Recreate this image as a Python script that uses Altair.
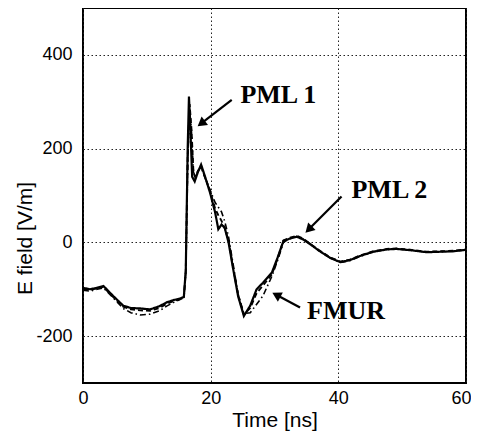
import altair as alt
import pandas as pd
import math

# ---- data ----
t_pml1 = [0, 1.1, 2.2, 3.2, 4.7, 6.3, 7.5, 9.0, 10.5, 12.0, 13.1, 14.2, 15.2, 15.8, 16.1, 16.4, 16.6,
          16.8, 17.1, 17.5, 18.0, 18.5, 19.1, 19.9, 20.7, 21.2, 21.7, 22.2, 22.8, 23.5, 24.3, 25.2,
          26.2, 27.2, 28.2, 29.6, 30.5, 31.4, 32.4, 33.5, 34.5, 35.6, 37.0, 38.7, 40.3, 41.8, 43.4,
          45.5, 47.6, 49.1, 51.5, 53.8, 56.0, 58.0, 60]
v_pml1 = [-97, -100, -97, -93, -114, -135, -140, -141, -143, -136, -128, -123, -120, -116, -60, 200, 311,
          250, 140, 130, 150, 166, 141, 106, 64, 28, 38, 31, 0, -55, -115, -157,
          -135, -100, -86, -64, -32, 3, 8, 12, 6, -4, -18, -33, -42, -38, -29,
          -20, -15, -14, -17, -21, -20, -19, -16]

t_pml2 = [0, 1.1, 2.2, 3.2, 4.7, 6.3, 7.5, 9.0, 10.5, 12.0, 13.1, 14.2, 15.2, 15.8, 16.1, 16.4, 16.7,
          17.0, 17.3, 17.6, 18.0, 18.5, 19.1, 19.9, 20.7, 21.2, 21.7, 22.2, 22.8, 23.5, 24.3, 25.2,
          26.2, 27.2, 28.2, 29.6, 30.5, 31.4, 32.4, 33.5, 34.5, 35.6, 37.0, 38.7, 40.3, 41.8, 43.4,
          45.5, 47.6, 49.1, 51.5, 53.8, 56.0, 58.0, 60]
v_pml2 = [-99, -101, -98, -95, -116, -137, -143, -145, -146, -140, -131, -125, -121, -117, -62, 180, 295,
          240, 150, 138, 152, 162, 140, 110, 72, 58, 46, 30, 4, -52, -112, -154,
          -140, -108, -92, -68, -34, 4, 10, 14, 8, -3, -17, -32, -41, -37, -28,
          -19, -14, -13, -16, -20, -19, -18, -15]

t_fmur = [0, 1.1, 2.2, 3.2, 4.7, 6.3, 7.5, 9.0, 10.5, 12.0, 13.1, 14.2, 15.2, 15.8, 16.1, 16.4, 16.7,
          17.0, 17.3, 17.6, 18.0, 18.5, 19.1, 19.9, 20.7, 21.2, 21.7, 22.2, 22.8, 23.5, 24.3, 25.2,
          26.2, 27.2, 28.2, 29.6, 30.5, 31.4, 32.4, 33.5, 34.5, 35.6, 37.0, 38.7, 40.3, 41.8, 43.4,
          45.5, 47.6, 49.1, 51.5, 53.8, 56.0, 58.0, 60]
v_fmur = [-102, -104, -100, -97, -118, -141, -150, -155, -153, -146, -136, -128, -122, -118, -64, 170, 285,
          235, 150, 140, 153, 160, 138, 112, 85, 75, 65, 45, 12, -45, -110, -152,
          -150, -132, -114, -72, -38, 0, 8, 13, 7, -3, -18, -33, -43, -39, -30,
          -20, -15, -14, -17, -21, -20, -19, -16]

series_names = ["PML 1", "PML 2", "FMUR"]
series_dash = [[1, 0], [5, 3], [6, 3, 1.5, 3]]
series_width = [2.2, 1.6, 1.6]

label_text = ["PML 1", "PML 2", "FMUR"]
label_t = [30.6, 48.0, 41.2]
label_v = [315, 111, -146]

arrow_tail_t = [23.3, 40.5, 34.0]
arrow_tail_v = [304, 98, -139]
arrow_tip_t = [17.9, 34.8, 29.6]
arrow_tip_v = [247, 20, -107]

x_ticks = [0, 20, 40, 60]
y_ticks = [-200, 0, 200, 400]

# ---- build tables ----
W, H = 383, 375
XDOM, YDOM = [0, 60], [-300, 500]
px_per_t = W / (XDOM[1] - XDOM[0])
px_per_v = H / (YDOM[1] - YDOM[0])

rows = []
for name, ts, vs in zip(series_names, [t_pml1, t_pml2, t_fmur], [v_pml1, v_pml2, v_fmur]):
    for t, v in zip(ts, vs):
        rows.append({"series": name, "t": t, "v": v})
df = pd.DataFrame(rows)

arrows = []
for a, b, c, d in zip(arrow_tail_t, arrow_tail_v, arrow_tip_t, arrow_tip_v):
    dx = (c - a) * px_per_t
    dy = -(d - b) * px_per_v  # screen down positive
    L = math.hypot(dx, dy)
    ux, uy = dx / L, dy / L
    ang = math.degrees(math.atan2(ux, -uy)) % 360
    back = 5.0
    hx = c - ux * back / px_per_t
    hy = d + uy * back / px_per_v
    sx = c - ux * 8 / px_per_t
    sy = d + uy * 8 / px_per_v
    arrows.append({"t0": a, "v0": b, "t1": sx, "v1": sy, "ht": hx, "hv": hy, "ang": ang})
adf = pd.DataFrame(arrows)

ldf = pd.DataFrame({"text": label_text, "t": label_t, "v": label_v})

xscale = alt.Scale(domain=XDOM, nice=False, zero=False)
yscale = alt.Scale(domain=YDOM, nice=False, zero=False)

lines = alt.Chart(df).mark_line(color="black", clip=True).encode(
    x=alt.X("t:Q", scale=xscale,
            axis=alt.Axis(title="Time [ns]", values=x_ticks, labelExpr="'' + datum.value",
                          labelFlush=True, labelFlushOffset=5,
                          titleY=43, titleBaseline="alphabetic")),
    y=alt.Y("v:Q", scale=yscale,
            axis=alt.Axis(title="E field [V/m]", values=y_ticks, labelExpr="'' + datum.value",
                          labelFlush=False,
                          titleX=-58, titleY=230, titleAngle=-90,
                          titleBaseline="middle", titleAlign="center")),
    strokeDash=alt.StrokeDash("series:N", scale=alt.Scale(domain=series_names, range=series_dash), legend=None),
    strokeWidth=alt.StrokeWidth("series:N", scale=alt.Scale(domain=series_names, range=series_width), legend=None),
    order=alt.Order("t:Q"),
)

shafts = alt.Chart(adf).mark_rule(color="black", strokeWidth=2.2).encode(
    x="t0:Q", y="v0:Q", x2="t1:Q", y2="v1:Q"
)
heads = alt.Chart(adf).mark_point(shape="triangle-up", filled=True, color="black",
                                  size=110, opacity=1).encode(
    x="ht:Q", y="hv:Q", angle=alt.Angle("ang:Q", scale=None)
)
texts = alt.Chart(ldf).mark_text(font="Liberation Serif", fontWeight="bold", fontSize=26,
                                 color="black", align="center", baseline="middle").encode(
    x="t:Q", y="v:Q", text="text:N"
)

chart = alt.layer(lines, shafts, heads, texts).properties(
    width=W, height=H,
    autosize=alt.AutoSizeParams(type="none"),
    padding={"left": 75, "top": 0, "right": 5, "bottom": 54},
).configure_view(
    stroke="black", strokeWidth=2
).configure_axis(
    domain=False, ticks=False, labelFont="Liberation Sans", labelFontSize=18,
    labelColor="black", titleFont="Liberation Sans", titleFontSize=21,
    titleFontWeight="normal", titleColor="black",
    grid=True, gridColor="#222", gridDash=[1.5, 2.5], gridWidth=1, gridOpacity=1,
).configure_axisX(labelPadding=6).configure_axisY(labelPadding=11)

chart.save("out.html", embed_options={"renderer": "svg", "actions": False})
